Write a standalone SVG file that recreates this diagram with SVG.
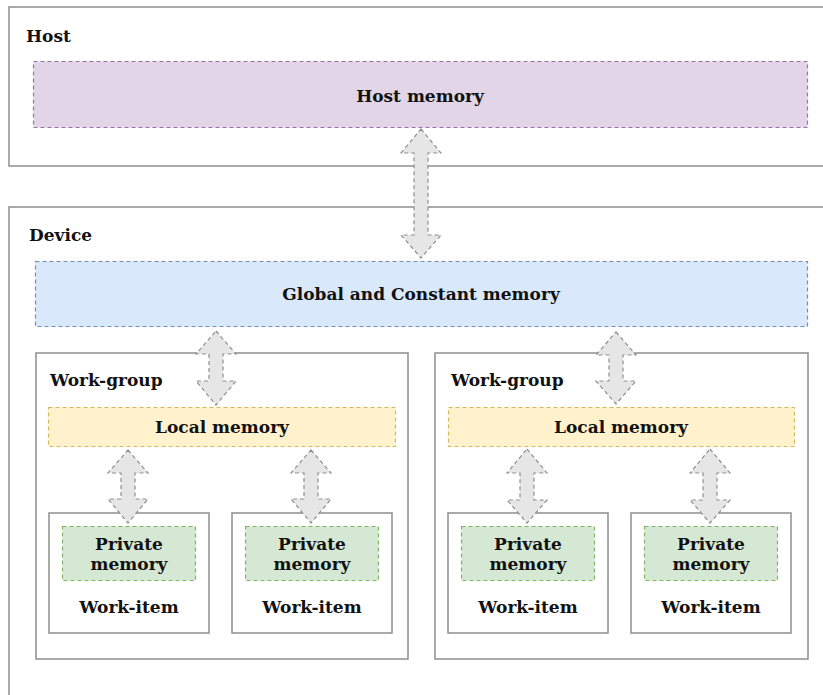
<svg xmlns="http://www.w3.org/2000/svg" width="823" height="695" viewBox="0 0 823 695">
  <style>
    .frame { fill: #ffffff; stroke: #8f8f8f; stroke-width: 1.5; }
    .mem { stroke-dasharray: 4 3; stroke-width: 1.2; }
    .host-mem { fill: #e1d5e7; stroke: #9673a6; }
    .global-mem { fill: #dae8fc; stroke: #6c8ebf; }
    .local-mem { fill: #fff2cc; stroke: #d6b656; }
    .private-mem { fill: #d5e8d4; stroke: #82b366; }
    .arrow { fill: #e6e6e6; stroke: #8f8f8f; stroke-width: 1.2; stroke-dasharray: 4 3; stroke-linejoin: miter; }
    text { font-family: "DejaVu Serif", "Liberation Serif", serif; font-weight: bold; font-size: 17px; fill: #111111; }
    .c { text-anchor: middle; }
  </style>

  <g id="host">
    <rect class="frame" x="9" y="7" width="830" height="159"/>
    <text x="26" y="42">Host</text>
  </g>
  <g id="host-memory">
    <rect class="mem host-mem" x="33.5" y="61.5" width="774" height="66"/>
    <text class="c" x="420" y="102">Host memory</text>
  </g>

  <g id="device">
    <rect class="frame" x="9" y="207" width="830" height="500"/>
    <text x="29" y="241">Device</text>
  </g>
  <g id="global-memory">
    <rect class="mem global-mem" x="35.5" y="261.5" width="772" height="65"/>
    <text class="c" x="421" y="300">Global and Constant memory</text>
  </g>

  <g id="work-group-1">
    <rect class="frame" x="36" y="353" width="372" height="306"/>
    <text x="50" y="386">Work-group</text>
  </g>
  <g id="local-memory-1">
    <rect class="mem local-mem" x="48.5" y="407.5" width="347" height="39"/>
    <text class="c" x="222" y="433">Local memory</text>
  </g>
  <g id="work-item-1">
    <rect class="frame" x="49" y="513" width="160" height="120"/>
    <rect class="mem private-mem" x="62.5" y="526.5" width="133" height="54"/>
    <text class="c" x="129" y="550">Private</text>
    <text class="c" x="129" y="570">memory</text>
    <text class="c" x="129" y="613">Work-item</text>
  </g>
  <g id="work-item-2">
    <rect class="frame" x="232" y="513" width="160" height="120"/>
    <rect class="mem private-mem" x="245.5" y="526.5" width="133" height="54"/>
    <text class="c" x="312" y="550">Private</text>
    <text class="c" x="312" y="570">memory</text>
    <text class="c" x="312" y="613">Work-item</text>
  </g>

  <g id="work-group-2">
    <rect class="frame" x="435" y="353" width="373" height="306"/>
    <text x="451" y="386">Work-group</text>
  </g>
  <g id="local-memory-2">
    <rect class="mem local-mem" x="448.5" y="407.5" width="346" height="39"/>
    <text class="c" x="621" y="433">Local memory</text>
  </g>
  <g id="work-item-3">
    <rect class="frame" x="448" y="513" width="160" height="120"/>
    <rect class="mem private-mem" x="461.5" y="526.5" width="133" height="54"/>
    <text class="c" x="528" y="550">Private</text>
    <text class="c" x="528" y="570">memory</text>
    <text class="c" x="528" y="613">Work-item</text>
  </g>
  <g id="work-item-4">
    <rect class="frame" x="631" y="513" width="160" height="120"/>
    <rect class="mem private-mem" x="644.5" y="526.5" width="133" height="54"/>
    <text class="c" x="711" y="550">Private</text>
    <text class="c" x="711" y="570">memory</text>
    <text class="c" x="711" y="613">Work-item</text>
  </g>

  <g id="connectors">
    <!-- host memory <-> global memory -->
    <path class="arrow" d="M421,129 L441,153 L428,153 L428,235 L441,235 L421,258 L401,235 L414,235 L414,153 L401,153 Z"/>
    <!-- global memory <-> local memory -->
    <path class="arrow" d="M216,331 L236,354 L223,354 L223,381 L236,381 L216,405 L196,381 L209,381 L209,354 L196,354 Z"/>
    <path class="arrow" d="M616,332 L636,355 L623,355 L623,381 L636,381 L616,404 L596,381 L609,381 L609,355 L596,355 Z"/>
    <!-- local memory <-> private memory -->
    <path class="arrow" d="M128,450 L148,473 L135,473 L135,499 L148,499 L128,523 L108,499 L121,499 L121,473 L108,473 Z"/>
    <path class="arrow" d="M311,450 L331,473 L318,473 L318,499 L331,499 L311,523 L291,499 L304,499 L304,473 L291,473 Z"/>
    <path class="arrow" d="M527,449 L547,473 L534,473 L534,500 L547,500 L527,523 L507,500 L520,500 L520,473 L507,473 Z"/>
    <path class="arrow" d="M710,449 L730,473 L717,473 L717,500 L730,500 L710,523 L690,500 L703,500 L703,473 L690,473 Z"/>
  </g>
</svg>
